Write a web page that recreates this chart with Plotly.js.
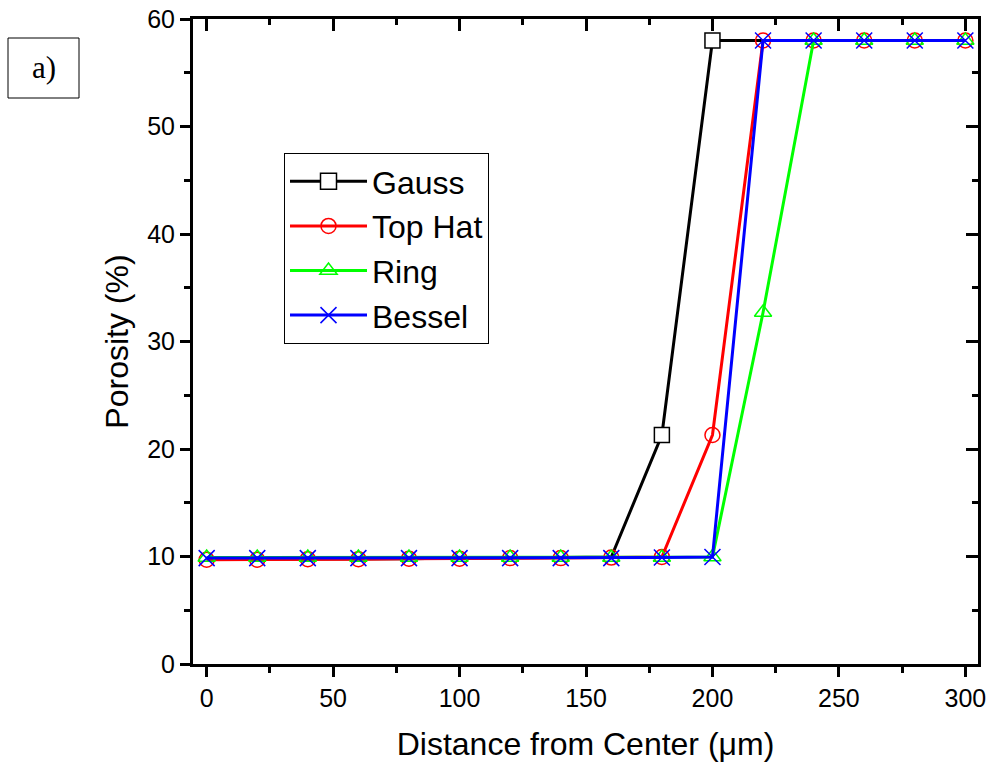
<!DOCTYPE html>
<html>
<head>
<meta charset="utf-8">
<script src="https://cdn.plot.ly/plotly-3.0.1.min.js"></script>
<style>html,body{margin:0;padding:0;background:#fff;}#chart{width:997px;height:782px;}</style>
</head>
<body>
<div id="chart"></div>
<script>
const distance = [0, 20, 40, 60, 80, 100, 120, 140, 160, 180, 200, 220, 240, 260, 280, 300];
const gauss   = [9.75, 9.75, 9.8, 9.8, 9.8, 9.85, 9.85, 9.9, 9.95, 21.3, 58, 58, 58, 58, 58, 58];
const topHat  = [9.7, 9.7, 9.75, 9.75, 9.8, 9.8, 9.85, 9.85, 9.9, 9.95, 21.3, 58, 58, 58, 58, 58];
const ring    = [9.9, 9.9, 9.9, 9.9, 9.9, 9.9, 9.9, 9.9, 9.9, 9.9, 9.95, 32.7, 58, 58, 58, 58];
const bessel  = [9.85, 9.85, 9.85, 9.85, 9.85, 9.85, 9.85, 9.85, 9.85, 9.9, 9.95, 58, 58, 58, 58, 58];
const seriesNames = ['Gauss', 'Top Hat', 'Ring', 'Bessel'];
// Gauss squares are hidden under the other markers except where it stands alone
const gaussMarkerOpacity = [0, 0, 0, 0, 0, 0, 0, 0, 0, 1, 1, 0, 0, 0, 0, 0];

const FONT = 'Arial, "Liberation Sans", sans-serif';
const XR = [-5.4, 305];
const YR = [0, 60];

function tr(y, name, color, symbol, fill) {
  return {
    x: distance, y: y, name: name, type: 'scatter', mode: 'lines+markers',
    line: {color: color, width: 3},
    marker: {symbol: symbol, size: 15, color: fill, line: {color: color, width: 1.5}},
    cliponaxis: false
  };
}
const gaussTrace = tr(gauss, seriesNames[0], '#000000', 'square', '#ffffff');
gaussTrace.marker.opacity = gaussMarkerOpacity;
gaussTrace.showlegend = false;
gaussTrace.legendgroup = 'g';
const gaussLegend = {
  x: [null], y: [null], name: seriesNames[0], type: 'scatter', mode: 'lines+markers',
  legendgroup: 'g', legendrank: 1,
  line: {color: '#000000', width: 3},
  marker: {symbol: 'square', size: 16, color: '#ffffff', line: {color: '#000000', width: 1.5}}
};
const topHatTrace = tr(topHat, seriesNames[1], '#ff0000', 'circle', 'rgba(255,255,255,0)');
topHatTrace.legendrank = 2;
const ringTrace = tr(ring, seriesNames[2], '#00ff00', 'triangle-up-open', '#00ff00');
ringTrace.legendrank = 3;
const besselTrace = tr(bessel, seriesNames[3], '#0000ff', 'x-thin-open', '#0000ff');
besselTrace.marker.size = 16;
besselTrace.legendrank = 4;

const data = [
  gaussTrace, gaussLegend, topHatTrace, ringTrace, besselTrace,
  {x: [XR[0]], y: [YR[0]], xaxis: 'x2', yaxis: 'y2', mode: 'markers', marker: {opacity: 0}, showlegend: false, hoverinfo: 'skip'}
];

const layout = {
  width: 997, height: 782,
  margin: {l: 193, r: 19, t: 19, b: 118},
  paper_bgcolor: '#ffffff', plot_bgcolor: '#ffffff',
  font: {family: FONT, size: 25, color: '#000'},
  showlegend: true,
  legend: {
    x: (284 - 193) / 785, y: (664 - 153) / 645, xanchor: 'left', yanchor: 'top',
    bgcolor: '#ffffff', bordercolor: '#000', borderwidth: 1,
    font: {family: FONT, size: 32, color: '#000'},
    itemwidth: 77, tracegroupgap: 0, traceorder: 'normal'
  },
  xaxis: {
    range: XR, tickvals: [0, 50, 100, 150, 200, 250, 300],
    showgrid: false, zeroline: false,
    showline: true, linecolor: '#000', linewidth: 3, mirror: true,
    ticks: 'outside', ticklen: 10, tickwidth: 3, tickcolor: '#000',
    minor: {tickvals: [25, 75, 125, 175, 225, 275], ticks: 'outside', ticklen: 6, tickwidth: 3, tickcolor: '#000', showgrid: false},
    tickfont: {family: FONT, size: 25},
    title: {text: 'Distance from Center (μm)', font: {family: FONT, size: 32}, standoff: 22}
  },
  yaxis: {
    range: YR, tickvals: [0, 10, 20, 30, 40, 50, 60],
    showgrid: false, zeroline: false,
    showline: true, linecolor: '#000', linewidth: 3, mirror: true,
    ticks: 'outside', ticklen: 10, tickwidth: 3, tickcolor: '#000',
    minor: {tickvals: [5, 15, 25, 35, 45, 55], ticks: 'outside', ticklen: 6, tickwidth: 3, tickcolor: '#000', showgrid: false},
    tickfont: {family: FONT, size: 25},
    title: {text: 'Porosity (%)', font: {family: FONT, size: 32}, standoff: 9}
  },
  xaxis2: {
    overlaying: 'x', side: 'top', anchor: 'y', range: XR,
    tickvals: [0, 50, 100, 150, 200, 250, 300], showticklabels: false,
    showgrid: false, zeroline: false, showline: false,
    ticks: 'inside', ticklen: 12, tickwidth: 3, tickcolor: '#000',
    minor: {tickvals: [25, 75, 125, 175, 225, 275], ticks: 'inside', ticklen: 6, tickwidth: 3, tickcolor: '#000', showgrid: false}
  },
  yaxis2: {
    overlaying: 'y', side: 'right', anchor: 'x', range: YR,
    tickvals: [0, 10, 20, 30, 40, 50, 60], showticklabels: false,
    showgrid: false, zeroline: false, showline: false,
    ticks: 'inside', ticklen: 12, tickwidth: 3, tickcolor: '#000',
    minor: {tickvals: [5, 15, 25, 35, 45, 55], ticks: 'inside', ticklen: 6, tickwidth: 3, tickcolor: '#000', showgrid: false}
  },
  shapes: [
    {type: 'rect', xref: 'paper', yref: 'paper', layer: 'above',
     x0: -185/785, x1: -114/785, y0: (664-98)/645, y1: (664-38)/645,
     line: {color: '#000', width: 1}}
  ],
  annotations: [
    {xref: 'paper', yref: 'paper', x: -149.5/785, y: (664-68)/645, xanchor: 'center', yanchor: 'middle',
     text: 'a)', showarrow: false, font: {family: '"Liberation Serif", "Times New Roman", serif', size: 31, color: '#000'}}
  ]
};

Plotly.newPlot('chart', data, layout, {displayModeBar: false, staticPlot: true});
</script>
</body>
</html>
